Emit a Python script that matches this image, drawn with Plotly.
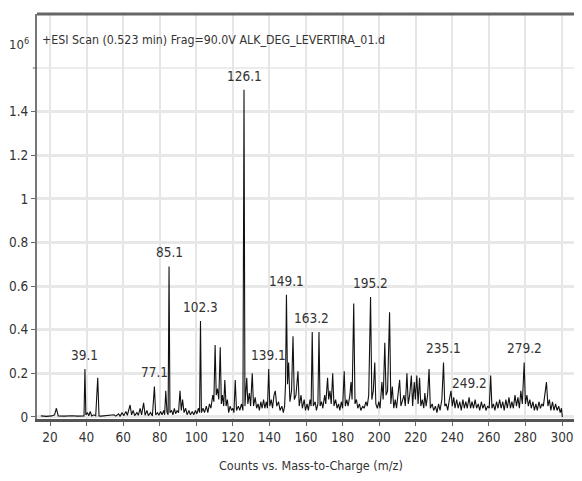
import plotly.graph_objects as go

# Spectrum profile (m/z, counts x10^6)
mz = [15, 18, 21, 22.5, 23.5, 24.5, 28, 32, 35, 38.6, 39.1, 39.6, 40.5, 41.2, 42, 42.8, 44, 45, 46.1, 46.8,
      48, 52, 55, 56, 57.5, 58.3, 59.5, 60.3, 61.5, 62.3, 63.8, 64.6, 65.5, 66.3, 67.5, 68.3, 69.3, 70.1, 71.2, 72,
      73, 73.8, 75, 76, 77.1, 77.8, 78.8, 79.5, 80.5, 81.3, 82.2, 82.7, 83.3, 84, 84.6, 85.1, 85.6, 86.5, 87.2, 88,
      88.7, 89.5, 90.3, 91.1, 91.8, 92.5, 93.3, 94.2, 95, 96, 96.8, 97.8, 98.6, 99.5, 100.3, 101.2, 101.8, 102.3, 102.8, 103.7,
      104.5, 105.5, 106.3, 107.2, 108, 109, 109.6, 110.3, 110.9, 111.6, 112.3, 113.1, 113.7, 114.3, 115, 115.6, 116.3, 117, 117.7, 118.5,
      119.3, 120, 120.6, 121.3, 122, 123, 123.8, 124.7, 125.5, 126.1, 126.6, 127.6, 128.2, 129, 129.7, 130.6, 131.3, 132.2, 133, 133.8,
      134.5, 135.3, 136, 136.8, 137.5, 138.3, 138.9, 139.6, 140.2, 141, 141.7, 142.5, 143.2, 144, 145, 145.8, 146.8, 147.6, 148.3, 148.8,
      149.3, 149.9, 150.5, 151.2, 152.1, 152.9, 153.6, 154.5, 155.6, 156.3, 157.3, 158, 159, 159.7, 160.6, 161.3, 162.2, 162.8, 163.4, 164,
      165, 165.7, 166.5, 167.1, 167.7, 168.5, 169.2, 170.2, 170.8, 171.8, 172.4, 173.1, 173.8, 174.6, 175.3, 176.2, 177, 177.8, 178.5, 179.3,
      180, 180.9, 181.5, 182.3, 183, 184, 184.6, 185.2, 186.1, 186.8, 187.6, 188.3, 189.2, 190, 191, 191.8, 192.8, 193.5, 194.3, 195.3,
      196, 196.8, 197.6, 198.2, 199, 199.8, 200.5, 201.5, 202.2, 203.1, 203.8, 204.6, 205.7, 206.4, 207.2, 208, 208.8, 209.5, 210.3, 211.2,
      211.9, 212.8, 213.6, 214.3, 215.2, 215.9, 216.7, 217.6, 218.3, 219.2, 219.8, 220.6, 221.3, 222.1, 222.8, 223.6, 224.4, 225, 225.7, 226.5,
      227.3, 228, 229, 229.8, 230.8, 231.6, 232.5, 233.3, 234.3, 235.2, 235.9, 236.7, 237.5, 238.4, 239.3, 240, 240.8, 241.5, 242.4, 243.2,
      244.1, 244.9, 245.8, 246.6, 247.4, 248.2, 249.2, 250, 250.8, 251.6, 252.5, 253.3, 254.2, 255, 255.9, 256.7, 257.6, 258.4, 259.3, 260.2,
      261, 261.7, 262.5, 263.3, 264.2, 265, 265.9, 266.7, 267.6, 268.4, 269.3, 270.1, 271, 271.8, 272.6, 273.4, 274.3, 275.1, 275.9, 276.7,
      277.5, 278.3, 279.3, 280, 280.8, 281.6, 282.4, 283.2, 284.1, 284.9, 285.7, 286.5, 287.4, 288.2, 289, 289.8, 290.6, 291.5, 292.3, 293.1,
      293.9, 294.8, 295.6, 296.5, 297.3, 298.2, 299, 299.7, 300.2]
counts = [0.005, 0.003, 0.005, 0.01, 0.04, 0.005, 0.004, 0.006, 0.004, 0.005, 0.22, 0.01, 0.02, 0.005, 0.025, 0.005, 0.01, 0.005, 0.18, 0.005,
          0.004, 0.006, 0.01, 0.004, 0.015, 0.004, 0.02, 0.006, 0.025, 0.008, 0.055, 0.01, 0.03, 0.006, 0.02, 0.008, 0.04, 0.01, 0.065, 0.008,
          0.03, 0.006, 0.02, 0.005, 0.14, 0.01, 0.02, 0.008, 0.025, 0.01, 0.03, 0.01, 0.12, 0.02, 0.01, 0.69, 0.02, 0.03, 0.01, 0.04,
          0.015, 0.03, 0.02, 0.12, 0.03, 0.08, 0.02, 0.04, 0.01, 0.03, 0.01, 0.025, 0.01, 0.03, 0.015, 0.04, 0.02, 0.44, 0.02, 0.04,
          0.02, 0.05, 0.02, 0.06, 0.04, 0.1, 0.07, 0.33, 0.1, 0.13, 0.08, 0.32, 0.06, 0.1, 0.05, 0.17, 0.05, 0.08, 0.02, 0.05,
          0.03, 0.04, 0.02, 0.17, 0.03, 0.05, 0.03, 0.06, 0.03, 1.50, 0.05, 0.18, 0.06, 0.11, 0.05, 0.2, 0.05, 0.09, 0.04, 0.06,
          0.03, 0.07, 0.04, 0.08, 0.04, 0.07, 0.04, 0.22, 0.05, 0.08, 0.04, 0.1, 0.12, 0.05, 0.07, 0.03, 0.05, 0.02, 0.05, 0.15,
          0.56, 0.15, 0.25, 0.07, 0.12, 0.37, 0.08, 0.1, 0.21, 0.05, 0.1, 0.04, 0.08, 0.03, 0.06, 0.03, 0.08, 0.05, 0.39, 0.05,
          0.07, 0.03, 0.06, 0.39, 0.05, 0.07, 0.04, 0.1, 0.06, 0.18, 0.08, 0.12, 0.06, 0.2, 0.05, 0.08, 0.04, 0.06, 0.03, 0.07,
          0.04, 0.21, 0.05, 0.08, 0.05, 0.1, 0.16, 0.08, 0.52, 0.06, 0.08, 0.04, 0.06, 0.03, 0.05, 0.04, 0.07, 0.05, 0.1, 0.55,
          0.08, 0.12, 0.25, 0.06, 0.04, 0.07, 0.04, 0.16, 0.08, 0.34, 0.1, 0.12, 0.48, 0.06, 0.14, 0.04, 0.08, 0.04, 0.1, 0.17,
          0.05, 0.08, 0.1, 0.05, 0.2, 0.06, 0.1, 0.19, 0.05, 0.16, 0.08, 0.19, 0.06, 0.18, 0.05, 0.08, 0.04, 0.11, 0.05, 0.1,
          0.22, 0.04, 0.06, 0.03, 0.05, 0.02, 0.06, 0.03, 0.08, 0.25, 0.05, 0.06, 0.03, 0.08, 0.12, 0.05, 0.09, 0.04, 0.08, 0.04,
          0.07, 0.03, 0.08, 0.04, 0.07, 0.04, 0.09, 0.04, 0.07, 0.04, 0.08, 0.04, 0.06, 0.03, 0.07, 0.04, 0.06, 0.03, 0.05, 0.04,
          0.19, 0.04, 0.06, 0.03, 0.07, 0.04, 0.08, 0.04, 0.07, 0.03, 0.08, 0.04, 0.09, 0.04, 0.07, 0.04, 0.1, 0.05, 0.09, 0.04,
          0.12, 0.06, 0.25, 0.06, 0.1, 0.05, 0.08, 0.04, 0.07, 0.03, 0.06, 0.03, 0.07, 0.04, 0.06, 0.05, 0.1, 0.16, 0.05, 0.08,
          0.03, 0.07, 0.03, 0.06, 0.03, 0.05, 0.02, 0.04, 0.0]

# Labelled peaks
label_mz = [39.1, 77.1, 85.1, 102.3, 126.1, 139.1, 149.1, 163.2, 195.2, 235.1, 249.2, 279.2]
label_pos = [39.1, 77.1, 85.1, 102.3, 126.1, 139.6, 149.3, 163.2, 195.3, 235.2, 249.2, 279.3]
label_top = [0.22, 0.14, 0.69, 0.44, 1.50, 0.22, 0.56, 0.39, 0.55, 0.25, 0.09, 0.25]

x_ticks = [20, 40, 60, 80, 100, 120, 140, 160, 180, 200, 220, 240, 260, 280, 300]
y_ticks = [0, 0.2, 0.4, 0.6, 0.8, 1.0, 1.2, 1.4]
y_ticktext = ["0", "0.2", "0.4", "0.6", "0.8", "1", "1.2", "1.4"]
y_top_grid = 1.6

FONT = "DejaVu Sans Condensed, Liberation Sans Narrow, sans-serif"
TXT = "#333333"
GRID = "#e6e6e6"

fig = go.Figure()
fig.add_trace(go.Scatter(x=mz, y=counts, mode="lines",
                         line=dict(color="#111111", width=1.1), hoverinfo="skip", showlegend=False))

for lab, xp, yt in zip(label_mz, label_pos, label_top):
    fig.add_annotation(x=xp, y=yt, text=f"{lab}", showarrow=False, yanchor="middle", yshift=14,
                       font=dict(family=FONT, size=13.5, color=TXT))

fig.add_annotation(xref="paper", yref="paper", x=0.006, y=0.936, xanchor="left", yanchor="middle",
                   text="+ESI Scan (0.523 min) Frag=90.0V ALK_DEG_LEVERTIRA_01.d", showarrow=False,
                   font=dict(family=FONT, size=12.3, color=TXT))
fig.add_annotation(xref="paper", yref="paper", x=-0.012, y=0.925, xanchor="right", yanchor="middle",
                   text="10<sup>6</sup>", showarrow=False, font=dict(family=FONT, size=13, color=TXT))
fig.add_annotation(xref="paper", yref="paper", x=0.51, y=-0.116, xanchor="center", yanchor="middle",
                   text="Counts vs. Mass-to-Charge (m/z)", showarrow=False,
                   font=dict(family=FONT, size=12.5, color=TXT))

fig.update_layout(
    width=566, height=465,
    margin=dict(l=29, r=0, t=6, b=54),
    paper_bgcolor="white", plot_bgcolor="white",
    shapes=[
        dict(type="line", xref="paper", yref="y", x0=0, x1=1, y0=y_top_grid, y1=y_top_grid,
             line=dict(color=GRID, width=1.5), layer="below"),
        dict(type="line", xref="paper", yref="y", x0=-0.008, x1=0, y0=y_top_grid, y1=y_top_grid,
             line=dict(color="#666666", width=1)),
        dict(type="line", xref="paper", yref="paper", x0=0, x1=1, y0=1, y1=1,
             line=dict(color="#666666", width=3)),
    ],
)
fig.update_xaxes(range=[12.89, 306.56], tickvals=x_ticks, ticks="outside", ticklen=4, tickcolor="#666666",
                 showgrid=True, gridcolor=GRID, gridwidth=1.5, zeroline=False,
                 showline=True, linecolor="#555555", linewidth=3, ticklabeloverflow="allow",
                 tickfont=dict(family=FONT, size=13.5, color=TXT))
fig.update_yaxes(range=[-0.0092, 1.8476], tickvals=y_ticks, ticktext=y_ticktext, ticks="outside", ticklen=4,
                 tickcolor="#666666", showgrid=True, gridcolor="#e8e8e8", gridwidth=3, zeroline=False,
                 showline=True, linecolor="#777777", linewidth=2,
                 tickfont=dict(family=FONT, size=13.5, color=TXT))

fig.write_html("out.html")
